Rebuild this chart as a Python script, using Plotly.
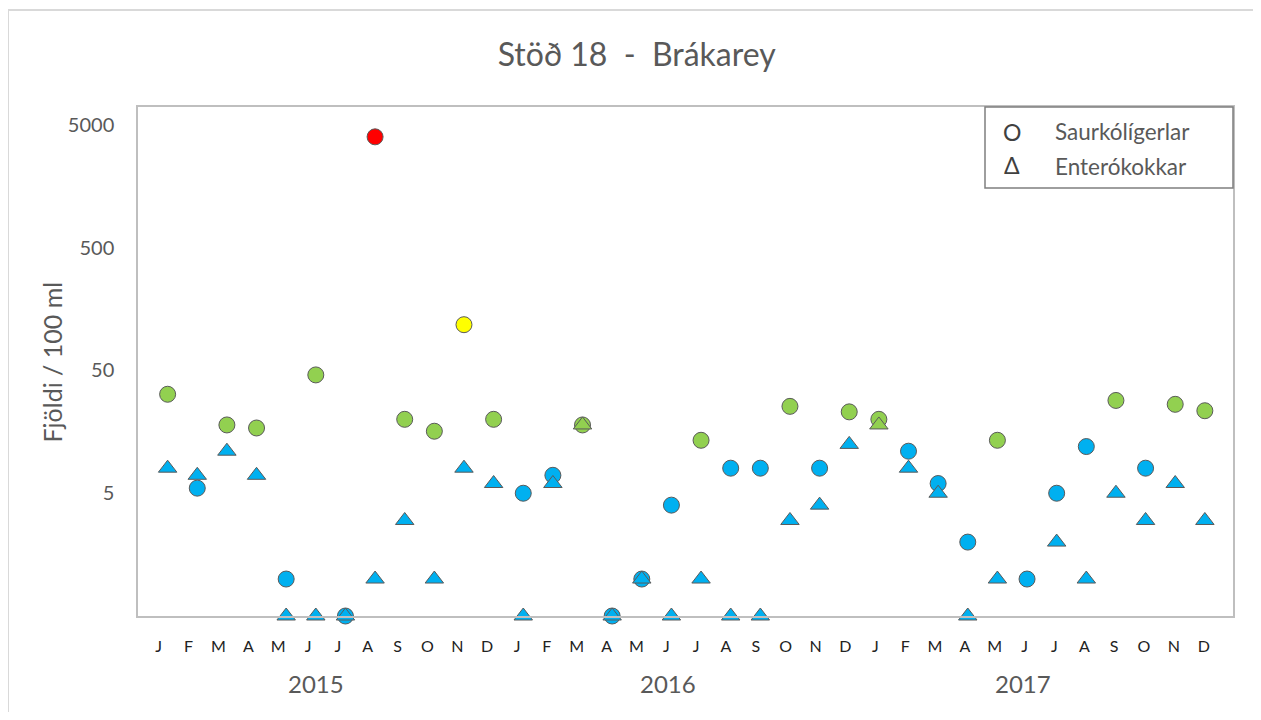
import plotly.graph_objects as go
import numpy as np

# ---- data ----
months = ["J", "F", "M", "A", "M", "J", "J", "A", "S", "O", "N", "D"] * 3
years = ["2015", "2016", "2017"]
year_label_pos = [5.0, 16.87, 28.85]

# Saurkólígerlar (faecal coliforms) per 100 ml
saurkoli = [32, 5.5, 18, 17, 1, 46, 0.5, 4000, 20, 16, 118, 20,
            5, 7, 18, 0.5, 1, 4, 13.5, 8, 8, 25.5, 8, 23,
            20, 11, 6, 2, 13.5, 1, 5, 12, 28.5, 8, 26.5, 23.5]
# Enterókokkar (enterococci) per 100 ml
entero = [8, 7, 11, 7, 0.5, 0.5, 0.5, 1, 3, 1, 8, 6,
          0.5, 6, 18, 0.5, 1, 0.5, 1, 0.5, 0.5, 3, 4, 12.5,
          18, 8, 5, 0.5, 1, None, 2, 1, 5, 3, 6, 3]

y_ticks = [5, 50, 500, 5000]


def colour(v):
    if v is None:
        return "rgba(0,0,0,0)"
    if v < 13:
        return "#00B0F0"
    if v < 100:
        return "#92D050"
    if v < 500:
        return "#FFFF00"
    return "#FF0000"


# page layout helpers (page is shifted by the 8px body margin)
PL, PR, PT, PB = 138, 1233, 107, 616


def px(xp):
    return (xp - PL) / (PR - PL)


def py(yp):
    return (PB - yp) / (PB - PT)


x = list(range(len(months)))
# month labels sit slightly left of the sample markers, as in the original
tick_pos = [i * 1.0075 - 0.30 for i in x]

fig = go.Figure()
fig.add_trace(go.Scatter(
    x=x, y=saurkoli, mode="markers", name="Saurkólígerlar",
    marker=dict(symbol="circle", size=16, color=[colour(v) for v in saurkoli],
                line=dict(color="#5a5a5a", width=1)),
    showlegend=False, cliponaxis=False,
))
fig.add_trace(go.Scatter(
    x=x, y=entero, mode="markers", name="Enterókokkar",
    marker=dict(symbol="triangle-up", size=16, color=[colour(v) for v in entero],
                line=dict(color="#5a5a5a", width=1)),
    showlegend=False, cliponaxis=False,
))

grey = "#595959"
font_family = "Lato"

annotations = []
for yr, pos in zip(years, year_label_pos):
    annotations.append(dict(x=pos, y=py(683), xref="x", yref="paper", text=yr,
                            showarrow=False, yanchor="middle", xanchor="center",
                            font=dict(family=font_family, size=24, color=grey)))
annotations.append(dict(x=px(51), y=0.5, xref="paper", yref="paper",
                        text="Fjöldi / 100 ml", textangle=-90, showarrow=False,
                        xanchor="center", yanchor="middle",
                        font=dict(family=font_family, size=25, color=grey)))
# legend text
annotations += [
    dict(x=px(1012), y=py(132), xref="paper", yref="paper",
         text="O", showarrow=False, xanchor="center", yanchor="middle",
         font=dict(family=font_family, size=23, color="#404040")),
    dict(x=px(1012), y=py(165), xref="paper", yref="paper",
         text="Δ", showarrow=False, xanchor="center", yanchor="middle",
         font=dict(family=font_family, size=23, color="#404040")),
    dict(x=px(1053), y=py(132), xref="paper", yref="paper",
         text="Saurkólígerlar", showarrow=False, xanchor="left", yanchor="middle",
         font=dict(family=font_family, size=22.5, color=grey)),
    dict(x=px(1053), y=py(166), xref="paper", yref="paper",
         text="Enterókokkar", showarrow=False, xanchor="left", yanchor="middle",
         font=dict(family=font_family, size=22.5, color=grey)),
]

shapes = [
    # legend box
    dict(type="rect", xref="paper", yref="paper",
         x0=px(985), x1=1.0, y0=py(188), y1=1.0,
         line=dict(color="#7f7f7f", width=1.5), fillcolor="rgba(0,0,0,0)"),
    # outer chart border
    dict(type="rect", xref="paper", yref="paper",
         x0=px(8), x1=px(1280), y0=py(740), y1=py(10),
         line=dict(color="#d9d9d9", width=2), fillcolor="rgba(0,0,0,0)", layer="below"),
]

fig.update_layout(
    width=1245, height=704,
    margin=dict(l=130, r=20, t=99, b=96),
    paper_bgcolor="white", plot_bgcolor="white",
    title=dict(text="Stöð 18 \u00a0-\u00a0 Brákarey", x=0.505, xanchor="center",
               y=1 - 47 / 704, yanchor="middle",
               font=dict(family=font_family, size=32, color=grey)),
    xaxis=dict(range=[-1.0, 35.95], tickmode="array", tickvals=tick_pos, ticktext=months,
               showgrid=False, zeroline=False, showline=True, mirror=True,
               linecolor="#bfbfbf", linewidth=1.5, ticks="",
               ticklabelstandoff=15,
               tickfont=dict(family=font_family, size=16, color="#222222")),
    yaxis=dict(type="log", range=[np.log10(0.5), np.log10(7000)],
               tickmode="array", tickvals=y_ticks, ticktext=[str(v) for v in y_ticks],
               showgrid=False, zeroline=False, showline=True, mirror=True,
               linecolor="#bfbfbf", linewidth=1.5, ticks="",
               ticklabelstandoff=18,
               tickfont=dict(family=font_family, size=20, color=grey)),
    annotations=annotations, shapes=shapes,
)

fig.write_html("out.html")
